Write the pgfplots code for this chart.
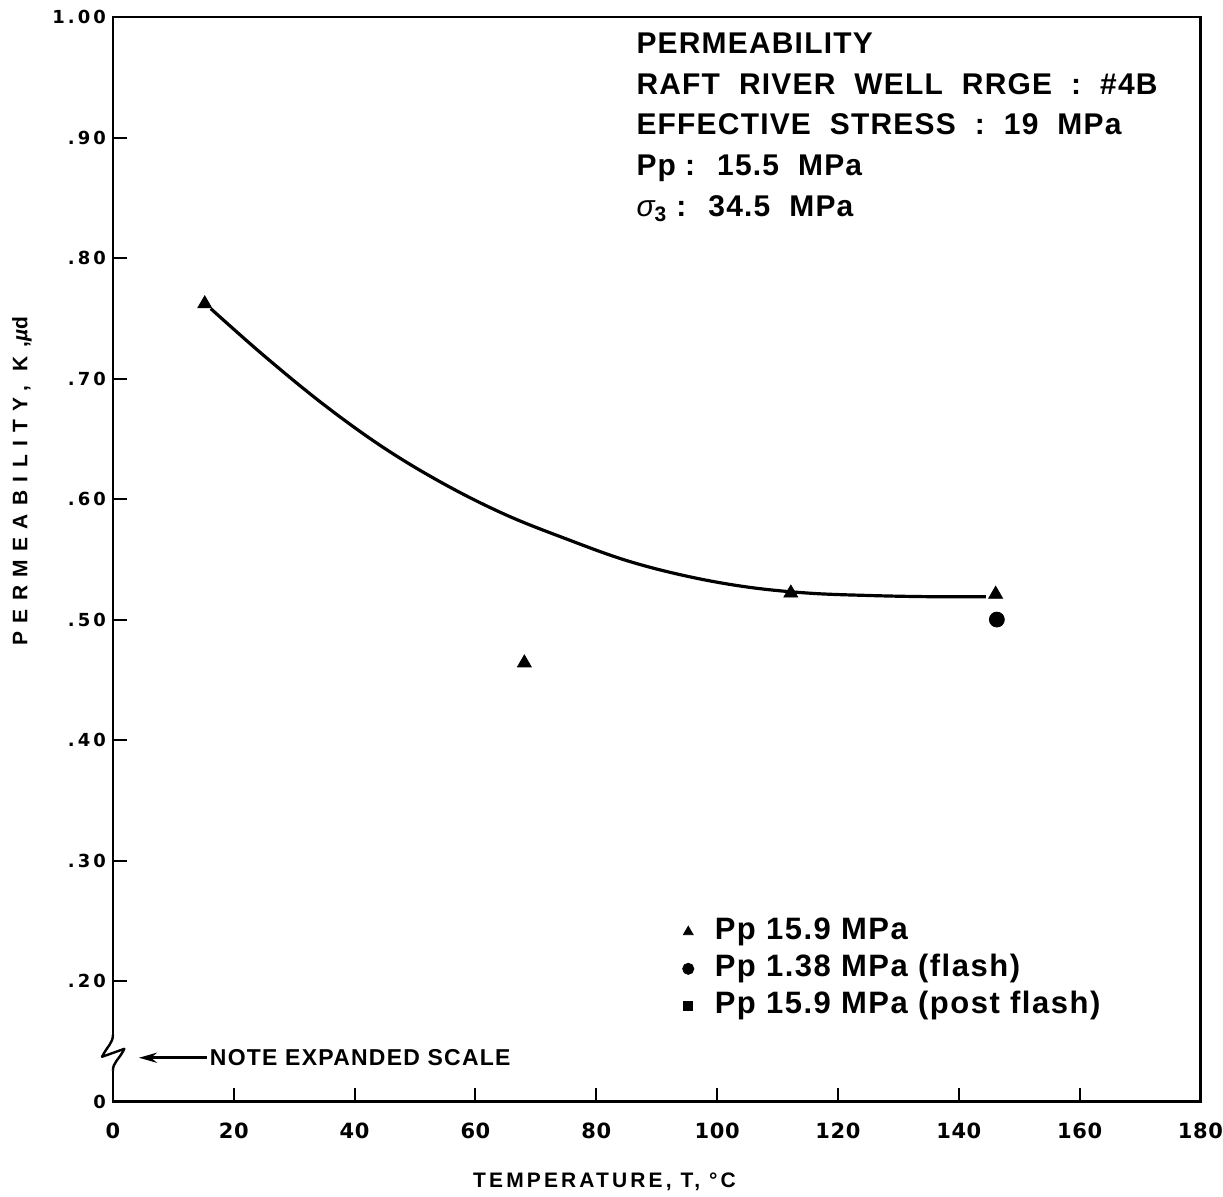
\documentclass[border=0pt]{standalone}
\usepackage{fontspec}
\setmainfont{Liberation Sans}
\newfontfamily\ytf[LetterSpace=17]{DejaVu Sans}
\newfontfamily\xtf[LetterSpace=3]{DejaVu Sans}
\newfontfamily\xlabf[LetterSpace=15]{Liberation Sans}
\newfontfamily\ylabf[LetterSpace=40]{Liberation Sans}
\newfontfamily\notef[LetterSpace=5.5]{Liberation Sans}
\newfontfamily\annf[LetterSpace=4,WordSpace=2.0]{Liberation Sans}
\newfontfamily\legf[LetterSpace=5]{Liberation Sans}
\usepackage{pgfplots}
\pgfplotsset{compat=1.18}
\usetikzlibrary{arrows.meta}
\begin{document}
\begin{tikzpicture}
\begin{axis}[
  scale only axis, width=544.5pt, height=543pt,
  xmin=0, xmax=180, ymin=0, ymax=0.9,
  xtick={0,20,40,60,80,100,120,140,160,180},
  xticklabels={0,20,40,60,80,100,120,140,160,180},
  ytick={0,0.1,0.2,0.3,0.4,0.5,0.6,0.7,0.8,0.9},
  yticklabels={0,.20,.30,.40,.50,.60,.70,.80,.90,1.00},
  tick align=inside, tick pos=left, major tick length=7pt,
  axis line style={line width=1.2pt},
  every tick/.style={line width=1pt, black},
  xticklabel style={font=\xtf\bfseries\fontsize{10.5}{12}\selectfont, inner sep=0pt, yshift=-10.5pt},
  yticklabel style={font=\ytf\bfseries\fontsize{9}{11}\selectfont},
  xlabel={TEMPERATURE, T, °C},
  xlabel style={at={(axis description cs:0.452,-0.0735)}, anchor=center, font=\xlabf\bfseries\fontsize{10.5}{12}\selectfont},
  ylabel={PERMEABILITY, K,{\itshape µ}d},
  ylabel style={at={(axis description cs:-0.0836,0.572)}, anchor=center, font=\ylabf\bfseries\fontsize{10.5}{12}\selectfont},
  legend style={at={(rel axis cs:0.518,0.1753)}, anchor=north west, draw=none, fill=none,
    font=\legf\bfseries\fontsize{15.5}{18}\selectfont,
    nodes={text height=11pt, text depth=3pt, inner sep=1pt}, row sep=2.5pt, column sep=9.5pt},
  legend cell align=left,
]
% fitted curve (K - 0.1 because of expanded scale)
\addplot[black, line width=1.6pt, smooth, tension=0.6, forget plot] coordinates {
  (16.2,0.658) (25,0.619) (35,0.578) (45,0.542) (55,0.512) (65,0.487)
  (75,0.467) (85,0.449) (95,0.436) (105,0.427) (115,0.422)
  (125,0.420) (135,0.419) (144.5,0.419)};
% Pp 15.9 MPa
\addplot[only marks, mark=triangle*, mark size=4pt, black, forget plot] coordinates {
  (15.2,0.662) (68.1,0.364) (112.2,0.422) (146.1,0.421)};
% Pp 1.38 MPa (flash)
\addplot[only marks, mark=*, mark size=3.75pt, black, forget plot] coordinates {
  (146.3,0.400)};
\addlegendimage{only marks, mark=triangle*, mark size=2.8pt, black}
\addlegendentry{Pp 15.9 MPa}
\addlegendimage{only marks, mark=*, mark size=2.8pt, black}
\addlegendentry{Pp 1.38 MPa (flash)}
\addlegendimage{only marks, mark=square*, mark size=2.2pt, black}
\addlegendentry{Pp 15.9 MPa (post flash)}
% annotations
\node[anchor=north west, align=left, inner sep=0pt, font=\annf\bfseries\fontsize{15}{20.5}\selectfont]
  at (axis cs:86.6,0.8875) {PERMEABILITY\\RAFT RIVER WELL RRGE : \#4B\\EFFECTIVE STRESS : 19 MPa\\Pp\hspace{0.3em}: 15.5 MPa\\{\mdseries\itshape σ}\textsubscript{3}\hspace{0.3em}: 34.5 MPa};
\node[anchor=west, inner sep=0pt, font=\notef\bfseries\fontsize{11.5}{13}\selectfont]
  at (axis cs:16.0,0.0364) {NOTE EXPANDED SCALE};
\draw[line width=1.6pt, -{Stealth[length=9pt,width=5pt]}] (axis cs:15.5,0.0364) -- (axis cs:4.3,0.0364);
\coordinate (za) at (axis cs:0,0.0256);
\coordinate (zb) at (axis cs:0,0.0554);
\coordinate (z1) at (axis cs:-1.8,0.0372);
\coordinate (z2) at (axis cs:1.9,0.0438);
\coordinate (bbl) at (rel axis cs:-0.1038,-0.0856);
\coordinate (btr) at (rel axis cs:1.0193,1.0157);
\end{axis}
\fill[white] ([xshift=-2pt]za) rectangle ([xshift=2pt]zb);
\draw[line width=1.2pt, line join=round] (zb) .. controls +(0,-0.15) and +(0.1,0.2) .. (z1) -- (z2) .. controls +(-0.1,-0.2) and +(0,0.15) .. (za);
\path (bbl) rectangle (btr);
\end{tikzpicture}
\end{document}
